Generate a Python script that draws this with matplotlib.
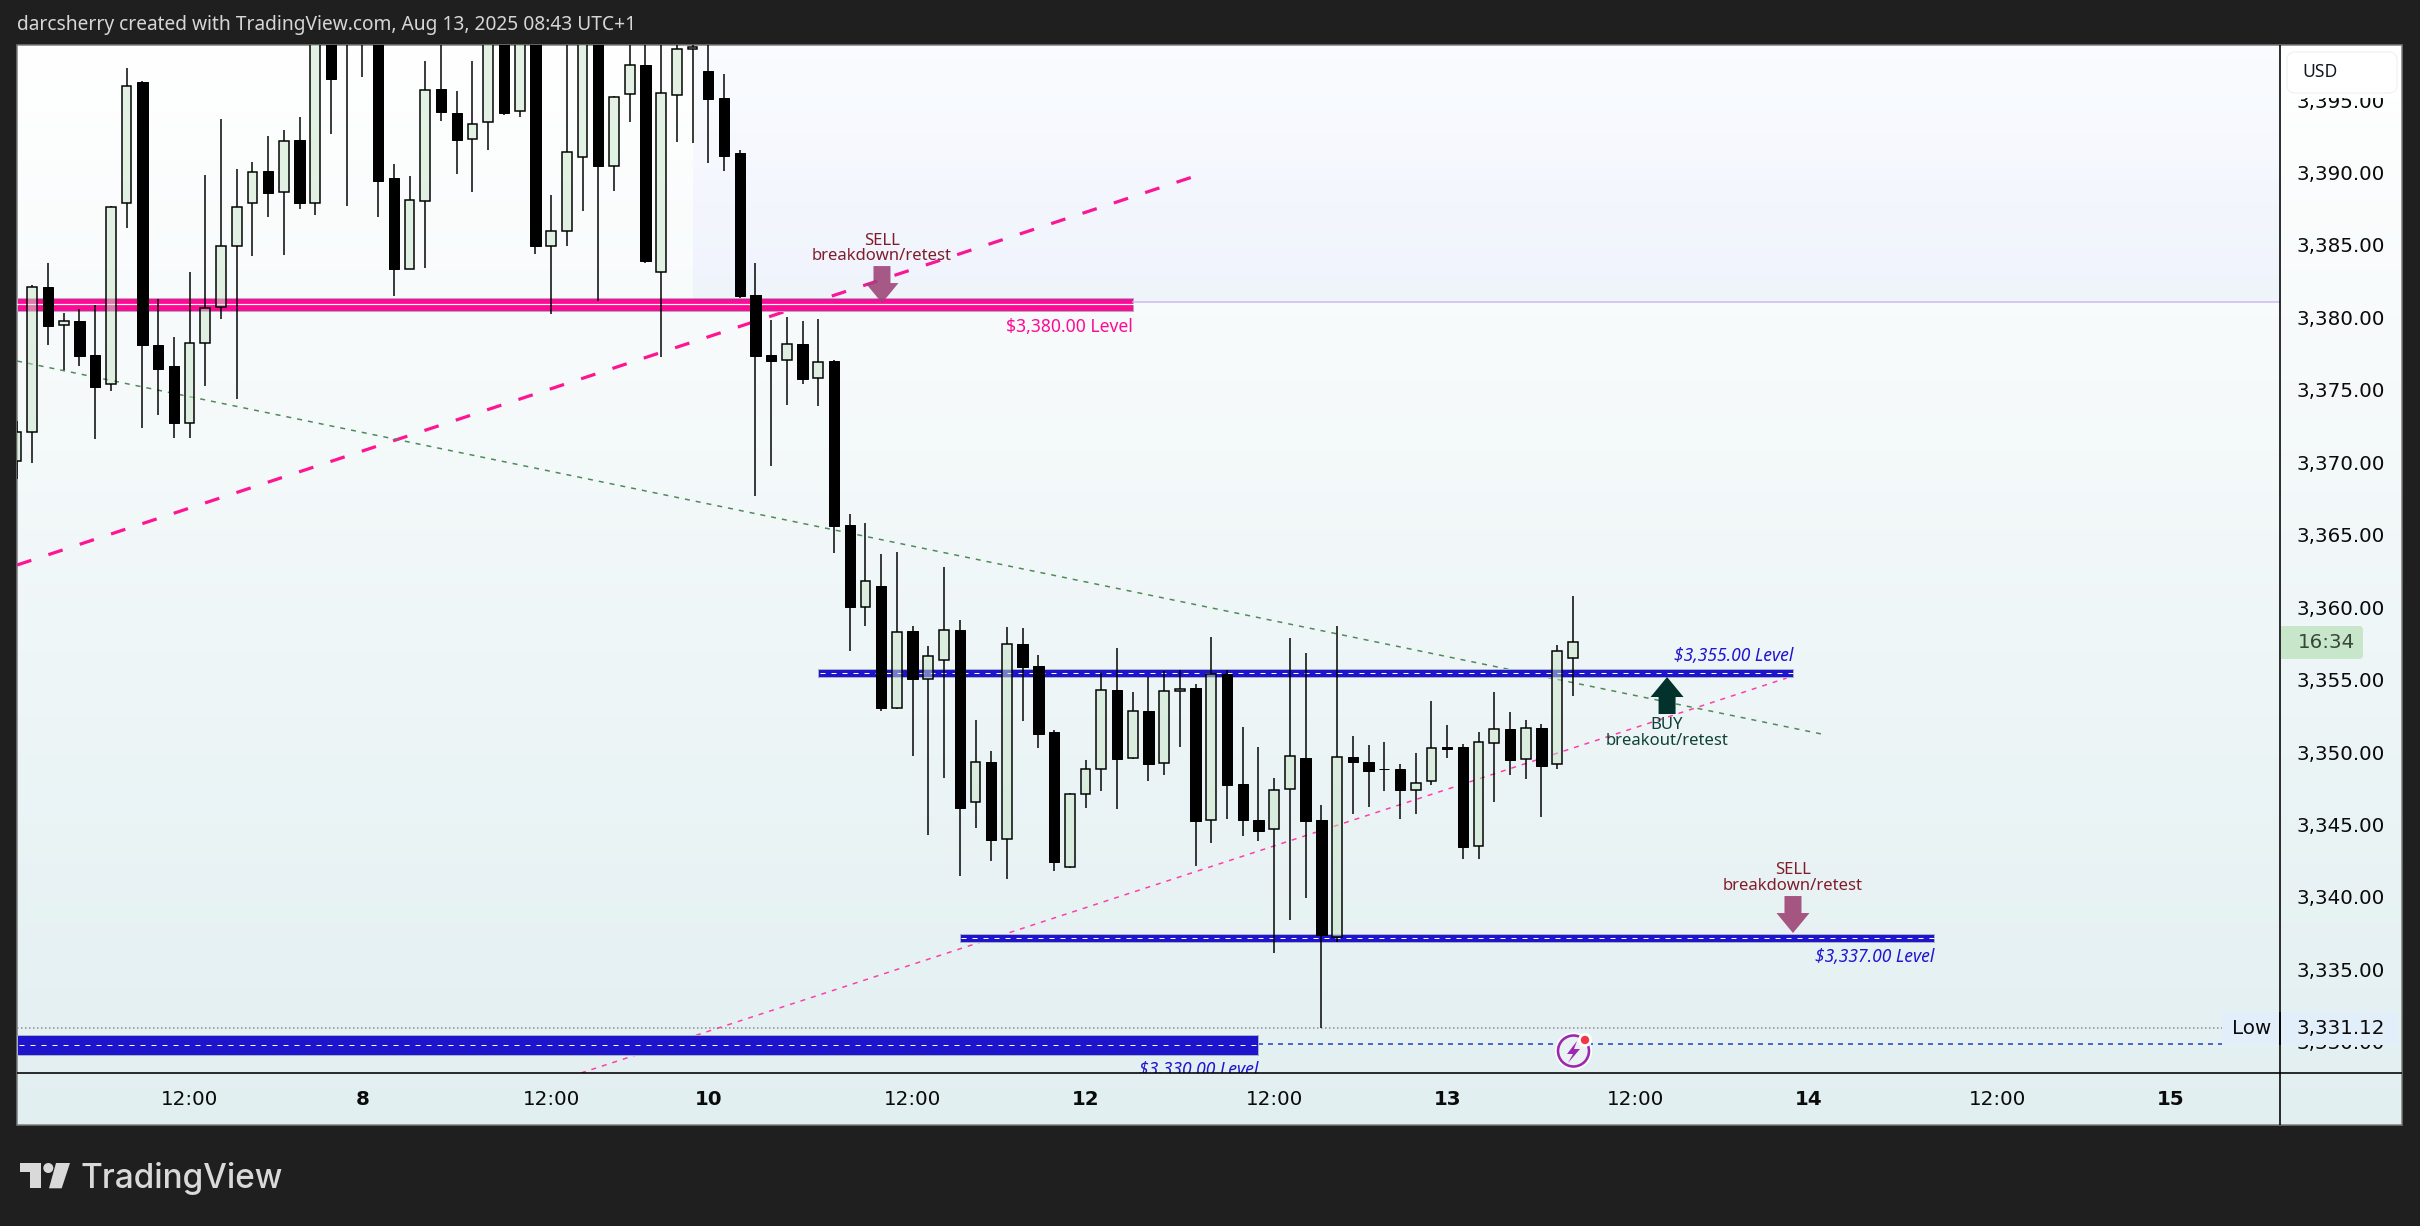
import numpy as np
from matplotlib import pyplot as plt
from matplotlib.patches import Rectangle, Polygon, Circle, FancyBboxPatch
from matplotlib.transforms import ScaledTranslation

plt.rcParams['lines.scale_dashes'] = False
plt.rcParams['font.family'] = ['DejaVu Sans']

# candles, first one is cut by the left edge of the pane
opens = [3370.21, 3372.21, 3382.21, 3379.59, 3379.89, 3377.54, 3375.52, 3388.01, 3396.38, 3378.24,
         3376.79, 3372.88, 3378.35, 3380.83, 3385.04, 3388.01, 3390.22, 3388.77, 3392.36, 3388.06,
         3400.00, 3401.50, 3400.50, 3400.00, 3389.73, 3383.50, 3388.20, 3395.90, 3394.24, 3392.43,
         3393.60, 3400.00, 3394.36, 3400.00, 3385.09, 3386.12, 3391.23, 3400.00, 3390.61, 3395.53,
         3397.55, 3383.25, 3395.46, 3398.64, 3397.12, 3395.25, 3391.46, 3381.66, 3377.52, 3377.18,
         3378.28, 3375.93, 3377.13, 3365.81, 3360.18, 3361.61, 3353.21, 3358.48, 3355.21, 3356.48,
         3358.55, 3346.68, 3349.44, 3344.13, 3357.58, 3356.06, 3351.51, 3342.19, 3347.23, 3348.96,
         3354.41, 3349.71, 3352.96, 3349.37, 3354.34, 3354.57, 3345.44, 3355.53, 3347.94, 3345.46,
         3344.82, 3347.58, 3349.72, 3345.46, 3337.39, 3349.78, 3349.44, 3348.97, 3348.96, 3347.55,
         3348.13, 3350.50, 3350.50, 3343.69, 3350.80, 3351.74, 3349.69, 3351.81, 3349.30, 3356.62]
highs = [3373.00, 3382.37, 3383.87, 3380.42, 3380.70, 3380.99, 3387.83, 3397.35, 3396.45, 3381.41,
         3378.79, 3383.27, 3389.97, 3393.83, 3390.38, 3390.86, 3392.66, 3393.07, 3393.97, 3401.00,
         3401.00, 3402.00, 3402.00, 3401.00, 3390.72, 3389.90, 3397.83, 3401.00, 3395.76, 3397.83,
         3401.00, 3401.00, 3401.00, 3401.00, 3388.59, 3401.00, 3401.00, 3401.00, 3395.42, 3401.00,
         3401.00, 3401.00, 3401.00, 3401.00, 3401.00, 3396.93, 3391.69, 3383.87, 3379.96, 3380.14,
         3379.89, 3380.03, 3377.20, 3366.57, 3365.95, 3363.81, 3363.95, 3358.85, 3357.47, 3362.92,
         3359.26, 3352.36, 3350.22, 3358.78, 3358.71, 3356.85, 3351.67, 3347.32, 3349.60, 3355.58,
         3357.33, 3354.29, 3355.35, 3355.74, 3355.81, 3354.84, 3358.09, 3355.81, 3351.88, 3350.50,
         3348.36, 3358.02, 3356.98, 3346.50, 3358.85, 3351.26, 3350.64, 3350.84, 3349.32, 3350.08,
         3353.67, 3352.02, 3350.70, 3351.53, 3354.29, 3352.91, 3352.36, 3352.08, 3357.54, 3360.92]
lows = [3369.00, 3370.07, 3378.26, 3376.51, 3376.81, 3371.77, 3375.08, 3386.33, 3372.53, 3373.43,
        3371.84, 3371.84, 3375.43, 3380.05, 3374.53, 3384.40, 3387.09, 3384.47, 3387.64, 3387.23,
        3392.82, 3387.85, 3396.75, 3387.09, 3381.64, 3383.45, 3383.55, 3393.71, 3390.06, 3388.81,
        3391.71, 3394.13, 3393.99, 3384.54, 3380.40, 3385.09, 3387.50, 3381.29, 3388.88, 3393.65,
        3383.92, 3377.43, 3392.27, 3392.20, 3390.82, 3390.26, 3381.50, 3367.84, 3369.91, 3374.12,
        3375.57, 3374.05, 3363.91, 3357.14, 3358.87, 3353.00, 3353.14, 3349.90, 3344.45, 3348.38,
        3341.62, 3344.93, 3342.65, 3341.41, 3352.31, 3350.45, 3341.96, 3342.15, 3346.31, 3347.48,
        3346.24, 3349.69, 3348.17, 3348.59, 3350.52, 3342.31, 3343.83, 3345.55, 3344.38, 3344.03,
        3336.24, 3338.58, 3340.10, 3331.12, 3337.00, 3345.90, 3346.38, 3347.48, 3345.55, 3345.90,
        3347.90, 3349.74, 3342.79, 3342.79, 3346.66, 3348.59, 3348.31, 3345.69, 3349.00, 3354.04]
closes = [3372.21, 3382.21, 3379.57, 3379.87, 3377.50, 3375.36, 3387.73, 3396.08, 3378.26, 3376.60,
          3372.88, 3378.35, 3380.76, 3385.04, 3387.73, 3390.15, 3388.75, 3392.29, 3388.06, 3400.00,
          3396.61, 3400.50, 3401.50, 3389.57, 3383.50, 3388.22, 3395.81, 3394.33, 3392.40, 3393.46,
          3400.00, 3394.27, 3400.00, 3385.09, 3386.08, 3391.53, 3400.00, 3390.61, 3395.32, 3397.53,
          3384.05, 3395.60, 3398.64, 3398.77, 3395.23, 3391.30, 3381.64, 3377.50, 3377.15, 3378.28,
          3375.91, 3377.04, 3365.74, 3360.18, 3361.93, 3353.21, 3358.41, 3355.21, 3356.75, 3358.55,
          3346.31, 3349.44, 3344.10, 3357.58, 3356.04, 3351.42, 3342.52, 3347.23, 3348.96, 3354.41,
          3349.69, 3352.96, 3349.35, 3354.34, 3354.47, 3345.35, 3355.51, 3347.90, 3345.48, 3344.66,
          3347.51, 3349.85, 3345.41, 3337.48, 3349.78, 3349.42, 3348.86, 3348.94, 3347.55, 3347.99,
          3350.41, 3350.38, 3343.62, 3350.82, 3351.72, 3349.60, 3351.78, 3349.21, 3357.10, 3357.72]

bars = np.arange(len(opens)) - 1

price_ticks = [3330, 3335, 3340, 3345, 3350, 3355, 3360, 3365, 3370, 3375, 3380, 3385, 3390, 3395]
time_ticks = [10, 21, 33, 43, 56, 67, 79, 90, 102, 113, 125, 136]
time_labels = ['12:00', '8', '12:00', '10', '12:00', '12', '12:00', '13', '12:00', '14', '12:00', '15']

# level boxes: price centre, height in price, first bar, last bar
level_prices = [3381.03, 3355.60, 3337.31, 3329.93]
level_heights = [0.92, 0.56, 0.56, 1.42]
level_starts = [-0.97, 49.98, 59.0, -0.97]
level_ends = [70.0, 112.0, 121.0, 78.0]
level_colors = ['#ff0a94', '#1e14cc', '#1e14cc', '#1e14cc']
level_texts = ['$3,380.00 Level', '$3,355.00 Level', '$3,337.00 Level', '$3,330.00 Level']
level_text_prices = [3379.48, 3356.77, 3336.00, 3328.20]

# trend lines, bar and price of both ends
pink_bold_bars = [-0.97, 73.8]
pink_bold_prices = [3363.05, 3389.83]
green_thin_bars = [-0.97, 113.8]
green_thin_prices = [3377.13, 3351.39]
pink_thin_bars = [34.9, 111.6]
pink_thin_prices = [3327.99, 3355.25]

low_price = 3331.12
W, H = 2420, 1226
DARK = '#1f1f1f'


def px(v):
    return v * 0.72


fig = plt.figure(figsize=(W / 100, H / 100), dpi=100, facecolor=DARK)

# background and page furniture in pixel coordinates
bg = fig.add_axes([0, 0, 1, 1], zorder=0)
bg.set_xlim(0, W)
bg.set_ylim(H, 0)
bg.axis('off')
grad = np.linspace(0, 1, 256)[:, None, None]
top_col = np.array([255, 255, 255]) / 255
bot_col = np.array([226, 239, 241]) / 255
bg.imshow(top_col + (bot_col - top_col) * grad, extent=(17, 2402, 1125, 45), aspect='auto', zorder=1)
bg.set_xlim(0, W)
bg.set_ylim(H, 0)
bg.add_patch(Rectangle((17, 45), 2385, 1080, fill=False, ec='#7c7c7c', lw=px(1.5), zorder=2))

# chart
ax = fig.add_axes([17 / W, 1 - 1073 / H, (2280 - 17) / W, (1073 - 45) / H], zorder=1)
ax.patch.set_alpha(0)
for s in ax.spines.values():
    s.set_visible(False)

# tinted block behind the old range
shade = np.zeros((256, 1, 4))
shade[:, :, 0] = 70 / 255
shade[:, :, 1] = 110 / 255
shade[:, :, 2] = 1.0
shade[:, :, 3] = np.linspace(0.05, 0.022, 256)[:, None]
ax.imshow(shade, extent=(42, 143, 3381.18, 3398.94), origin='lower', aspect='auto', zorder=3.5)
ax.plot([70, 143], [3381.18, 3381.18], color='#cdb9ec', lw=px(1.5), zorder=3.6)

ax.plot(pink_bold_bars, pink_bold_prices, color='#ff1493', lw=px(3.2), dashes=(px(15), px(18)),
        dash_capstyle='butt', zorder=2)
ax.plot(green_thin_bars, green_thin_prices, color='#4d8a58', lw=px(1.5), dashes=(px(5), px(6)),
        dash_capstyle='butt', zorder=2)
ax.plot(pink_thin_bars, pink_thin_prices, color='#ff3da8', lw=px(1.5), dashes=(px(5), px(6)),
        dash_capstyle='butt', zorder=2)

ax.plot([-0.97, 139.3], [low_price, low_price], color='#8c8c8c', lw=px(1.5), dashes=(px(1.5), px(2.5)),
        dash_capstyle='butt', zorder=2)
ax.plot([78, 139.3], [3330, 3330], color='#1a3fc4', lw=px(1.5), dashes=(px(5), px(5)),
        dash_capstyle='butt', zorder=2)

for i in range(4):
    p = level_prices[i]
    h = level_heights[i]
    ax.add_patch(Rectangle((level_starts[i], p - h / 2), level_ends[i] - level_starts[i], h,
                           fc=level_colors[i], ec='#aab0c4', lw=px(1), zorder=3))
    if i == 0:
        ax.plot([level_starts[i], level_ends[i]], [p, p], color='white', lw=px(1.2), zorder=3.1)
    else:
        ax.plot([level_starts[i] + 0.1, level_ends[i]], [p, p], color='white', lw=px(1),
                dashes=(px(5), px(6)), dash_capstyle='butt', zorder=3.1)
    ax.text(level_ends[i], level_text_prices[i], level_texts[i], ha='right', va='center',
            color='#ff0a94' if i == 0 else '#2015d0', style='normal' if i == 0 else 'italic',
            fontsize=12.6, family='Noto Sans', fontweight='medium', clip_on=True, zorder=4)

# candles
o = np.array(opens)
c = np.array(closes)
top = np.maximum(o, c)
bottom = np.minimum(o, c)
up = c >= o
ax.vlines(bars, top, highs, color='black', lw=px(1.5), zorder=5)
ax.vlines(bars, lows, bottom, color='black', lw=px(1.5), zorder=5)
ax.bar(bars[up], (c - o)[up], bottom=o[up], width=0.62, facecolor=(200 / 255, 230 / 255, 201 / 255, 0.5),
       edgecolor='black', linewidth=px(1.5), zorder=6)
ax.bar(bars[~up], (o - c)[~up], bottom=c[~up], width=0.66, facecolor='black',
       edgecolor='black', linewidth=px(1), zorder=6)

ax.set_xlim(-0.973, 142.98)
ax.set_ylim(3327.99, 3398.94)

ax.yaxis.tick_right()
ax.set_yticks(price_ticks)
ax.set_yticklabels(['{:,.2f}'.format(v) for v in price_ticks], fontsize=14.3, color='#0b0b0b')
ax.tick_params(axis='y', length=0, pad=12.2)
ax.set_xticks(time_ticks)
ax.set_xticklabels(time_labels, fontsize=14.3, color='#0b0b0b')
ax.tick_params(axis='x', length=0, pad=12)
for lab in ax.get_xticklabels():
    if ':' not in lab.get_text():
        lab.set_fontweight('bold')
lift = ScaledTranslation(0, 2 / 100, fig.dpi_scale_trans)
for lab in ax.get_yticklabels():
    lab.set_transform(lab.get_transform() + lift)

# top layer, pixel coordinates
ov = fig.add_axes([0, 0, 1, 1], zorder=2)
ov.patch.set_alpha(0)
ov.set_xlim(0, W)
ov.set_ylim(H, 0)
ov.axis('off')


def to_px(bar, price):
    return ov.transData.inverted().transform(ax.transData.transform((bar, price)))


ov.plot([2280, 2280], [45, 1125], color='black', lw=px(1.6), solid_capstyle='butt')
ov.plot([17, 2402], [1073, 1073], color='black', lw=px(1.6), solid_capstyle='butt')


def arrow(bar, price, col, pointing_down, alpha=1.0):
    x, y = to_px(bar, price)
    d = -1 if pointing_down else 1
    pts = [(x, y), (x + 16.5, y + d * 20), (x + 8.5, y + d * 20), (x + 8.5, y + d * 37),
           (x - 8.5, y + d * 37), (x - 8.5, y + d * 20), (x - 16.5, y + d * 20)]
    ov.add_patch(Polygon(pts, closed=True, fc=col, ec='none', alpha=alpha))
    return x, y


SELL_COL = '#7f1d2b'
x, y = arrow(54.05, 3381.13, '#9c4477', True, 0.88)
ov.text(x, y - 62, 'SELL', ha='center', va='center', color=SELL_COL, fontsize=12, family='Noto Sans', fontweight='medium')
ov.text(x, y - 47, 'breakdown/retest', ha='center', va='center', color=SELL_COL, fontsize=12, family='Noto Sans', fontweight='medium')
x, y = arrow(112.0, 3337.65, '#a55582', True)
ov.text(x, y - 63, 'SELL', ha='center', va='center', color=SELL_COL, fontsize=12, family='Noto Sans', fontweight='medium')
ov.text(x, y - 47, 'breakdown/retest', ha='center', va='center', color=SELL_COL, fontsize=12, family='Noto Sans', fontweight='medium')
x, y = arrow(103.99, 3355.32, '#03322c', False)
ov.text(x, y + 48, 'BUY', ha='center', va='center', color='#0d4238', fontsize=12, family='Noto Sans', fontweight='medium')
ov.text(x, y + 64, 'breakout/retest', ha='center', va='center', color='#0d4238', fontsize=12, family='Noto Sans', fontweight='medium')

# price scale boxes, the USD box also hides most of the top tick label
ov.add_patch(Rectangle((2282, 46), 119, 52, fc='white', ec='none'))
ov.add_patch(FancyBboxPatch((2291, 56), 102, 33, boxstyle='round,pad=4,rounding_size=8', fc='white',
                            ec='#eef1f6', lw=px(1.2)))
ov.text(2302, 72, 'USD', ha='left', va='center', fontsize=12.6, color='#131722', family='Noto Sans')

ov.add_patch(Rectangle((2222, 1012), 176, 33, fc='#e3eefb', ec='none'))
ov.plot([2280, 2280], [1012, 1045], color='black', lw=px(1.6), solid_capstyle='butt')
ov.text(2252, 1028, 'Low', ha='center', va='center', fontsize=14.3, color='#0b0b0b')
ov.text(2297, 1028, '{:,.2f}'.format(low_price), ha='left', va='center', fontsize=14.3, color='#0b0b0b')

ov.add_patch(FancyBboxPatch((2285, 630), 74, 25, boxstyle='round,pad=4,rounding_size=4', fc='#c8e6c9', ec='none'))
ov.add_patch(Rectangle((2281, 626), 8, 33, fc='#c8e6c9', ec='none'))
ov.text(2326, 643, '16:34', ha='center', va='center', fontsize=14.3, color='#37473b')

# alert icon
ov.add_patch(Circle((1573.5, 1051), 18.5, fc='white', ec='none'))
ov.add_patch(Circle((1573.5, 1051), 15.5, fc='#eaf1f3', ec='#9c27b0', lw=px(2.6)))
ov.add_patch(Polygon([(1577, 1041), (1567, 1054), (1573, 1054), (1568, 1063), (1580, 1049), (1574, 1049)],
                     closed=True, fc='#9c27b0', ec='none'))
ov.add_patch(Circle((1585, 1040), 7, fc='white', ec='none'))
ov.add_patch(Circle((1585, 1040), 4.2, fc='#f23645', ec='none'))

# header and footer
ov.text(17, 25, 'darcsherry created with TradingView.com, Aug 13, 2025 08:43 UTC+1', ha='left', va='center',
        fontsize=13.8, color='#d6d6d6', family='Noto Sans')
LOGO = '#d9d9d9'
ov.add_patch(Polygon([(20, 1163), (41, 1163), (41, 1188), (30, 1188), (30, 1172), (20, 1172)], closed=True,
                     fc=LOGO, ec='none'))
ov.add_patch(Circle((48.3, 1168), 5, fc=LOGO, ec='none'))
ov.add_patch(Polygon([(56, 1163), (70, 1163), (61.7, 1188.3), (49, 1188.3)], closed=True, fc=LOGO, ec='none'))
ov.text(81, 1188, 'TradingView', ha='left', va='baseline', fontsize=24, color=LOGO, family='Inter', fontweight='medium')

fig.savefig('out.png', dpi=100, facecolor=DARK)
